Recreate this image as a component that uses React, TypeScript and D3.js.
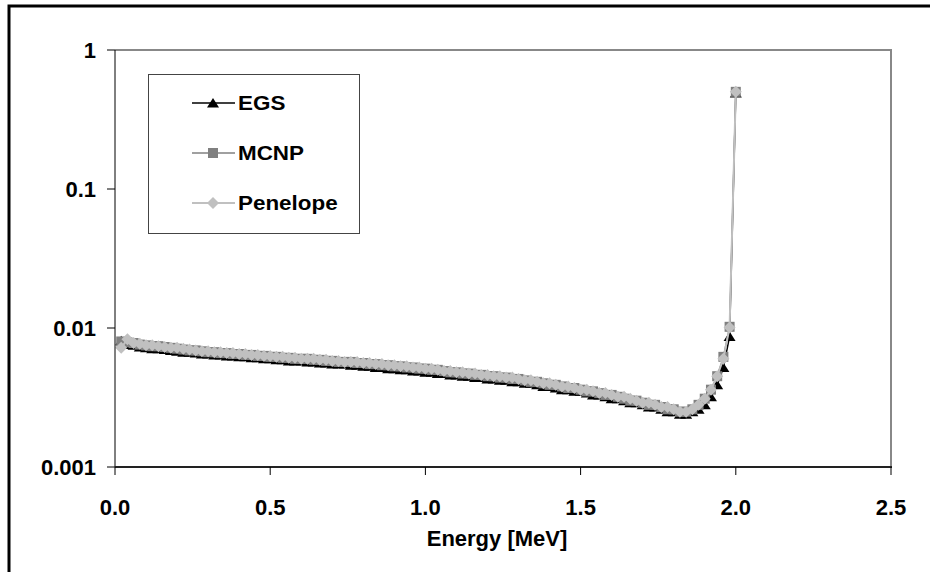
import React from "react";
import * as d3 from "d3";

const energy = [
  0.02, 0.04, 0.06, 0.08, 0.1, 0.12, 0.14, 0.16, 0.18, 0.2,
  0.22, 0.24, 0.26, 0.28, 0.3, 0.32, 0.34, 0.36, 0.38, 0.4,
  0.42, 0.44, 0.46, 0.48, 0.5, 0.52, 0.54, 0.56, 0.58, 0.6,
  0.62, 0.64, 0.66, 0.68, 0.7, 0.72, 0.74, 0.76, 0.78, 0.8,
  0.82, 0.84, 0.86, 0.88, 0.9, 0.92, 0.94, 0.96, 0.98, 1.0,
  1.02, 1.04, 1.06, 1.08, 1.1, 1.12, 1.14, 1.16, 1.18, 1.2,
  1.22, 1.24, 1.26, 1.28, 1.3, 1.32, 1.34, 1.36, 1.38, 1.4,
  1.42, 1.44, 1.46, 1.48, 1.5, 1.52, 1.54, 1.56, 1.58, 1.6,
  1.62, 1.64, 1.66, 1.68, 1.7, 1.72, 1.74, 1.76, 1.78, 1.8,
  1.82, 1.84, 1.86, 1.88, 1.9, 1.92, 1.94, 1.96, 1.98, 2.0,
];

const mcnp = [
  0.0080, 0.0079, 0.0078, 0.0076, 0.0075, 0.0074, 0.0074, 0.0073, 0.0072, 0.0071,
  0.0070, 0.0069, 0.0069, 0.0068, 0.0067, 0.0067, 0.0066, 0.0066, 0.0065, 0.0065,
  0.0064, 0.0064, 0.0063, 0.0063, 0.0062, 0.0062, 0.0061, 0.0061, 0.0060, 0.0060,
  0.0060, 0.0059, 0.0059, 0.0058, 0.0058, 0.0057, 0.0057, 0.0057, 0.0056, 0.0056,
  0.0055, 0.0055, 0.0054, 0.0054, 0.0053, 0.0053, 0.0052, 0.0052, 0.0051, 0.0051,
  0.0050, 0.0050, 0.0049, 0.0048, 0.0048, 0.0047, 0.0047, 0.0046, 0.0046, 0.0045,
  0.0045, 0.0044, 0.0044, 0.0043, 0.0043, 0.0042, 0.0041, 0.0041, 0.0040, 0.0039,
  0.0039, 0.0038, 0.0037, 0.0037, 0.0036, 0.0035, 0.0035, 0.0034, 0.0033, 0.0033,
  0.0032, 0.0031, 0.0030, 0.0030, 0.0029, 0.0028, 0.0028, 0.0027, 0.0026, 0.0026,
  0.0025, 0.0025, 0.0026, 0.0028, 0.0031, 0.0036, 0.0045, 0.0062, 0.0102, 0.50,
];

const egs = [
  0.0081, 0.0076, 0.0075, 0.0073, 0.0072, 0.0071, 0.0071, 0.0070, 0.0069, 0.0068,
  0.0067, 0.0067, 0.0066, 0.0065, 0.0065, 0.0064, 0.0064, 0.0063, 0.0063, 0.0062,
  0.0062, 0.0061, 0.0061, 0.0060, 0.0060, 0.0059, 0.0059, 0.0058, 0.0058, 0.0058,
  0.0057, 0.0057, 0.0056, 0.0056, 0.0055, 0.0055, 0.0055, 0.0054, 0.0054, 0.0053,
  0.0053, 0.0052, 0.0052, 0.0051, 0.0051, 0.0050, 0.0050, 0.0049, 0.0049, 0.0048,
  0.0048, 0.0047, 0.0047, 0.0046, 0.0046, 0.0045, 0.0045, 0.0044, 0.0044, 0.0043,
  0.0043, 0.0042, 0.0042, 0.0041, 0.0041, 0.0040, 0.0040, 0.0039, 0.0038, 0.0038,
  0.0037, 0.0036, 0.0036, 0.0035, 0.0035, 0.0034, 0.0033, 0.0033, 0.0032, 0.0031,
  0.0031, 0.0030, 0.0029, 0.0029, 0.0028, 0.0027, 0.0027, 0.0026, 0.0025, 0.0025,
  0.0024, 0.0024, 0.0025, 0.0026, 0.0028, 0.0032, 0.0039, 0.0052, 0.0087, 0.49,
];

const penelope = [
  0.0072, 0.0083, 0.0078, 0.0077, 0.0075, 0.0075, 0.0074, 0.0073, 0.0072, 0.0072,
  0.0071, 0.0070, 0.0069, 0.0068, 0.0068, 0.0067, 0.0067, 0.0066, 0.0066, 0.0065,
  0.0065, 0.0064, 0.0064, 0.0063, 0.0063, 0.0062, 0.0062, 0.0061, 0.0061, 0.0060,
  0.0060, 0.0060, 0.0059, 0.0059, 0.0058, 0.0058, 0.0057, 0.0057, 0.0057, 0.0056,
  0.0056, 0.0055, 0.0055, 0.0054, 0.0054, 0.0053, 0.0053, 0.0052, 0.0052, 0.0051,
  0.0051, 0.0050, 0.0049, 0.0049, 0.0048, 0.0048, 0.0047, 0.0047, 0.0046, 0.0046,
  0.0045, 0.0045, 0.0044, 0.0044, 0.0043, 0.0042, 0.0042, 0.0041, 0.0040, 0.0040,
  0.0039, 0.0038, 0.0038, 0.0037, 0.0036, 0.0036, 0.0035, 0.0034, 0.0034, 0.0033,
  0.0032, 0.0032, 0.0031, 0.0030, 0.0029, 0.0029, 0.0028, 0.0027, 0.0027, 0.0026,
  0.0025, 0.0025, 0.0026, 0.0028, 0.0031, 0.0036, 0.0045, 0.0060, 0.0101, 0.50,
];

const xTicks = [0, 0.5, 1.0, 1.5, 2.0, 2.5];
const yTicks = [1, 0.1, 0.01, 0.001];
const yTickLabels = ["1", "0.1", "0.01", "0.001"];
const seriesNames = ["EGS", "MCNP", "Penelope"];

const FONT = "'Liberation Sans', Arial, Helvetica, sans-serif";

const X0 = 115, X1 = 891, Y0 = 50, Y1 = 467;

type Shape = "triangle" | "square" | "diamond";

function Marker({ x, y, shape, color }: { x: number; y: number; shape: Shape; color: string }) {
  if (shape === "triangle") {
    return <path d={`M${x - 6},${y + 4.5} L${x + 6},${y + 4.5} L${x},${y - 5} Z`} fill={color} />;
  }
  if (shape === "square") {
    return <rect x={x - 5} y={y - 5} width={10} height={10} fill={color} />;
  }
  return <path d={`M${x},${y - 6} L${x + 6},${y} L${x},${y + 6} L${x - 6},${y} Z`} fill={color} />;
}

export default function App() {
  const x = d3.scaleLinear().domain([0, 2.5]).range([X0, X1]);
  const y = d3.scaleLog().domain([0.001, 1]).range([Y1, Y0]);

  const series = [
    { name: seriesNames[0], values: egs, color: "#000000", shape: "triangle" as Shape, width: 1.5 },
    { name: seriesNames[1], values: mcnp, color: "#808080", shape: "square" as Shape, width: 1.5 },
    { name: seriesNames[2], values: penelope, color: "#c0c0c0", shape: "diamond" as Shape, width: 2 },
  ];

  const line = (vals: number[]) =>
    d3
      .line<number>()
      .x((_, i) => x(energy[i]))
      .y((v) => y(v))(vals) || "";

  const legendY = [103, 153, 203];

  return (
    <svg
      width={930}
      height={572}
      style={{ position: "absolute", left: 0, top: 0, background: "#fff" }}
      fontFamily={FONT}
    >
      <rect x={0} y={0} width={930} height={572} fill="#fff" />
      {/* outer frame */}
      <path d="M9,572 L9,6 L930,6" fill="none" stroke="#000" strokeWidth={3} />

      {/* plot area border top/right */}
      <path d={`M${X0},${Y0} L${X1},${Y0} L${X1},${Y1}`} fill="none" stroke="#888" strokeWidth={2} />

      {/* series */}
      {series.map((s) => (
        <g key={s.name}>
          <path d={line(s.values)} fill="none" stroke={s.color} strokeWidth={s.width} />
          {s.values.map((v, i) => (
            <Marker key={i} x={x(energy[i])} y={y(v)} shape={s.shape} color={s.color} />
          ))}
        </g>
      ))}

      {/* axes */}
      <line x1={X0} y1={Y0} x2={X0} y2={Y1} stroke="#000" strokeWidth={1} />
      <line x1={X0} y1={Y1} x2={X1 + 1} y2={Y1} stroke="#222" strokeWidth={2} />
      {yTicks.map((t, i) => (
        <g key={t}>
          <line x1={X0 - 8} x2={X0} y1={y(t)} y2={y(t)} stroke="#000" strokeWidth={1} />
          <text
            x={96}
            y={y(t) + 8}
            textAnchor="end"
            fontSize={22}
            fontWeight="bold"
            fill="#000"
          >
            {yTickLabels[i]}
          </text>
        </g>
      ))}
      {xTicks.map((t) => (
        <g key={t}>
          <line x1={x(t)} x2={x(t)} y1={Y1} y2={Y1 + 8} stroke="#000" strokeWidth={1} />
          <text x={x(t)} y={515} textAnchor="middle" fontSize={22} fontWeight="bold" fill="#000">
            {t.toFixed(1)}
          </text>
        </g>
      ))}
      <text x={497} y={546} textAnchor="middle" fontSize={22} fontWeight="bold" fill="#000">
        Energy [MeV]
      </text>

      {/* legend */}
      <rect x={148.5} y={74.5} width={211} height={159} fill="#fff" stroke="#444" strokeWidth={1} />
      {series.map((s, i) => (
        <g key={s.name}>
          <line x1={192} x2={235} y1={legendY[i]} y2={legendY[i]} stroke={s.color} strokeWidth={s.width} />
          <Marker x={213} y={legendY[i]} shape={s.shape} color={s.color} />
          <text
            transform={`translate(238,${legendY[i] + 7}) scale(1.15,1)`}
            fontSize={19.5}
            fontWeight="bold"
            fill="#000"
          >
            {s.name}
          </text>
        </g>
      ))}
    </svg>
  );
}
